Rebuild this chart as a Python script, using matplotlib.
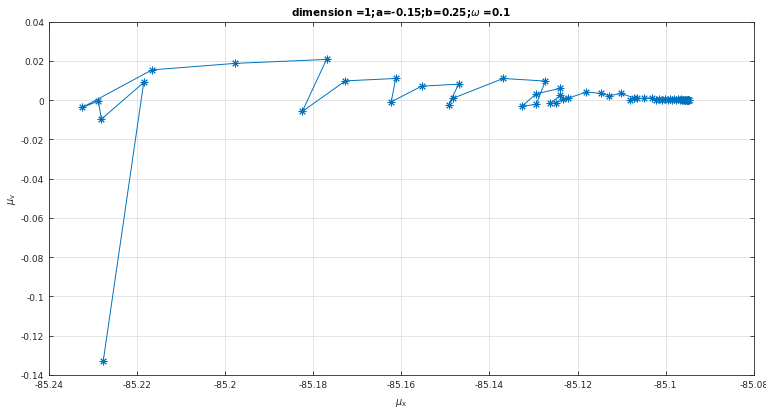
import numpy as np
import matplotlib
matplotlib.use("Agg")
import matplotlib.pyplot as plt

# path of (mu_x, mu_v), in drawing order
mu_x = [-85.2277, -85.2185, -85.2281, -85.2288, -85.2324, -85.2166, -85.1977,
        -85.1770, -85.1825, -85.1727, -85.1613, -85.1623, -85.1554, -85.1470,
        -85.1493, -85.1483, -85.1369, -85.1273, -85.1294, -85.1326, -85.1294,
        -85.1239, -85.1239, -85.1262, -85.1250, -85.1232, -85.1222, -85.1180,
        -85.1147, -85.1128, -85.1101, -85.1073, -85.1080, -85.1066, -85.1050,
        -85.1031, -85.1023, -85.1015, -85.1008, -85.1002, -85.0995, -85.0990,
        -85.0985, -85.0980, -85.0976, -85.0972, -85.0968, -85.0965, -85.0962,
        -85.0960, -85.0958, -85.0956, -85.0955, -85.0953, -85.0952, -85.0951,
        -85.0950, -85.0949, -85.0949, -85.0948, -85.0948]
mu_v = [-0.1330, 0.0090, -0.0097, -0.0005, -0.0037, 0.0154, 0.0187,
        0.0207, -0.0058, 0.0098, 0.0110, -0.0009, 0.0071, 0.0081,
        -0.0025, 0.0009, 0.0110, 0.0097, -0.0022, -0.0031, 0.0032,
        0.0060, 0.0025, -0.0017, -0.0014, 0.0004, 0.0009, 0.0041,
        0.0034, 0.0022, 0.0034, 0.0012, 0.0000, 0.0009, 0.0009,
        0.0012, 0.0000, 0.0008, 0.0002, 0.0007, -0.0001, 0.0005,
        0.0000, 0.0004, -0.0001, 0.0003, 0.0000, 0.0003, -0.0001,
        0.0002, 0.0000, 0.0002, -0.0001, 0.0001, 0.0000, 0.0001,
        -0.0001, 0.0001, 0.0000, 0.0000, 0.0000]

xticks = np.arange(-85.24, -85.079, 0.02)
yticks = np.arange(-0.14, 0.041, 0.02)
xtick_labels = ['-85.24', '-85.22', '-85.2', '-85.18', '-85.16', '-85.14',
                '-85.12', '-85.1', '-85.08']
ytick_labels = ['-0.14', '-0.12', '-0.1', '-0.08', '-0.06', '-0.04',
                '-0.02', '0', '0.02', '0.04']

fig = plt.figure(figsize=(7.66, 4.10), dpi=100)
ax = fig.add_axes([0.064, 0.083, 0.920, 0.862])

ax.plot(mu_x, mu_v, color='#0072BD', linewidth=0.7,
        marker=(8, 2, 0), markersize=5.5, markeredgewidth=0.7)

ax.set_xlim(-85.24, -85.08)
ax.set_ylim(-0.14, 0.04)
ax.set_xticks(xticks)
ax.set_xticklabels(xtick_labels)
ax.set_yticks(yticks)
ax.set_yticklabels(ytick_labels)

ax.grid(True, color='#dfdfdf', linewidth=0.6)
ax.set_axisbelow(True)
ax.tick_params(direction='in', length=3, width=0.6, labelsize=6.5,
               colors='#262626', top=True, right=True)
for s in ax.spines.values():
    s.set_color('#262626')
    s.set_linewidth(0.6)

ax.set_title(r'dimension =1;a=-0.15;b=0.25;$\omega$ =0.1', fontsize=7.5,
             fontweight='bold', pad=5)
ax.set_xlabel(r'$\mu_{\mathrm{x}}$', fontsize=7, color='#262626', labelpad=5)
ax.set_ylabel(r'$\mu_{\mathrm{v}}$', fontsize=7, color='#262626', labelpad=2)

fig.savefig('out.png', dpi=100)
